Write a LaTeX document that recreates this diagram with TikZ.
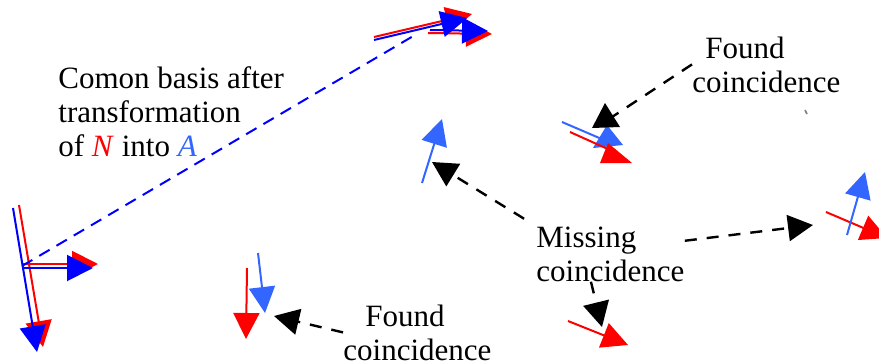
\documentclass[tikz,border=0pt]{standalone}
\usepackage{fontspec}
\setmainfont{Liberation Serif}
\usetikzlibrary{arrows.meta}

\begin{document}
\begin{tikzpicture}[x=0.5pt, y=-0.5pt,
    txt/.style={inner sep=0pt, align=left, font=\fontsize{15.5pt}{17pt}\selectfont},
    ax/.style={line width=1pt, -{Triangle[length=13pt, width=13pt]}},
    link/.style={line width=1.2pt, dash pattern=on 6pt off 5pt,
                 -{Triangle[length=12.5pt, width=13pt]}},
]

% Colors
\definecolor{axR}{RGB}{255,0,0}
\definecolor{axB}{RGB}{0,0,255}
\definecolor{ptB}{RGB}{51,102,255}

\useasboundingbox (0,0) rectangle (879,364);
\clip (0,0) rectangle (879,364);

% === Texts (base = last line) ===
\node[txt, anchor=base west] (basis) at (58,156)
  {Comon basis after\\transformation\\of \textcolor{axR}{\textit{N}} into \textcolor{ptB}{\textit{A}}};
\node[txt, anchor=base west] (found1) at (692,92) {\hspace*{6.5pt}Found\\coincidence};
\node[txt, anchor=base west] (miss) at (536,281) {Missing\\coincidence};
\node[txt, anchor=base west] (found2) at (343,360) {\hspace*{11pt}Found\\coincidence};

% === Frame N (bottom left) ===
\coordinate (orgN) at (22,266);
\coordinate (orgA) at (415,35);
\draw[ax, axR] (19,205) -- (43,347);
\draw[ax, axR] (22,264) -- (98,264);
\draw[ax, axB] (13,208) -- (37,352);
\draw[ax, axB] (22,268) -- (93,268);

% === Frame after transformation (top) ===
\draw[ax, axR] (374,37) -- (472,14);
\draw[ax, axR] (428,33) -- (492,34);
\draw[ax, axB] (374,40) -- (467,18);
\draw[ax, axB] (430,30) -- (488,31);

\draw[axB, line width=1pt, dash pattern=on 6pt off 4pt] (orgN) -- (orgA);

% === Points ===
\draw[ax, ptB] (422,183) -- (442,119);
\draw[ax, ptB] (258,253) -- (265,313);
\draw[ax, axR] (247,268) -- (246,339);
\draw[ax, axR] (826,212) -- (887,238);
\draw[ax, ptB] (847,235) -- (865,172);

% found pair, top
\draw[ptB, line width=1pt] (562,122) -- (604,140);
\fill[ptB] (607,125) -- (593,148) -- (623,145) -- cycle;
\draw[axR, line width=1pt] (570,132) -- (610,150);
\fill[axR] (608,143) -- (600,163) -- (632,163) -- cycle;

% === Connectors ===
\coordinate (tipF1) at (612,117);
\coordinate (tipML) at (432,162);
\coordinate (tipMR) at (813,225);
\coordinate (tipMB) at (602,327);
\coordinate (tipF2) at (274,316);

\draw[link, -] (found1.west) -- (tipF1);
\fill (605,103) -- (592,128) -- (620,127) -- cycle;
\draw[link, shorten <=7pt] (miss.north west) -- (tipML);
\draw[link] (miss.10) -- (tipMR);
\draw[link] (miss.235) -- (tipMB);
\draw[ax, axR] (568,321) -- (628,345);
\draw[link] (found2.west) -- (tipF2);

\draw[gray, line width=0.8pt] (805,110) -- (807,114);
\end{tikzpicture}
\end{document}
